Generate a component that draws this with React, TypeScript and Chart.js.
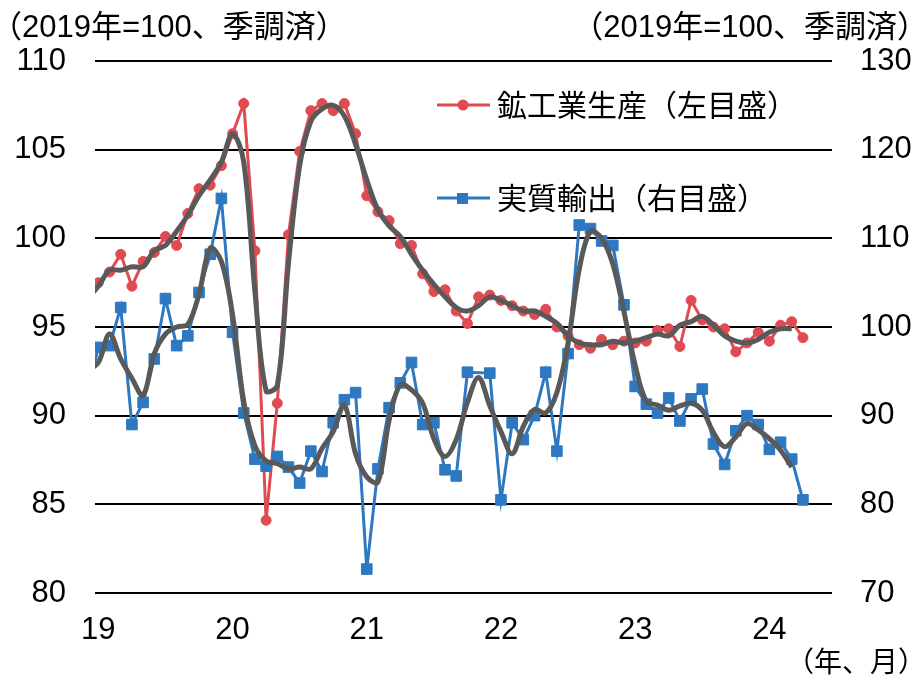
import React, { useEffect, useRef } from 'react';
import { Chart, registerables } from 'chart.js';

Chart.register(...registerables);

const FONT = '"Liberation Sans", "Noto Sans CJK JP", Arial, sans-serif';
const CJK = '"Noto Sans CJK JP", "Liberation Sans", sans-serif';

// Months from Dec 2018 to Apr 2024
const months = [
  '2018-12',
  '2019-01', '2019-02', '2019-03', '2019-04', '2019-05', '2019-06', '2019-07', '2019-08', '2019-09', '2019-10', '2019-11', '2019-12',
  '2020-01', '2020-02', '2020-03', '2020-04', '2020-05', '2020-06', '2020-07', '2020-08', '2020-09', '2020-10', '2020-11', '2020-12',
  '2021-01', '2021-02', '2021-03', '2021-04', '2021-05', '2021-06', '2021-07', '2021-08', '2021-09', '2021-10', '2021-11', '2021-12',
  '2022-01', '2022-02', '2022-03', '2022-04', '2022-05', '2022-06', '2022-07', '2022-08', '2022-09', '2022-10', '2022-11', '2022-12',
  '2023-01', '2023-02', '2023-03', '2023-04', '2023-05', '2023-06', '2023-07', '2023-08', '2023-09', '2023-10', '2023-11', '2023-12',
  '2024-01', '2024-02', '2024-03', '2024-04',
];

const yearTickMonths = ['2019-01', '2020-01', '2021-01', '2022-01', '2023-01', '2024-01'];
const yearTickLabels = ['19', '20', '21', '22', '23', '24'];

// 鉱工業生産 (left axis)
const ipValues = [
  96.5,
  97.5, 98.1, 99.1, 97.3, 98.7, 99.2, 100.1, 99.6, 101.4, 102.8, 103.0, 104.1,
  105.9, 107.6, 99.3, 84.1, 90.7, 100.2, 104.9, 107.2, 107.6, 107.2, 107.6, 105.9,
  102.4, 101.5, 101.0, 99.7, 99.6, 98.0, 97.0, 97.1, 95.9, 95.2, 96.7, 96.8,
  96.5, 96.2, 95.9, 95.7, 96.0, 95.0, 94.5, 94.0, 93.8, 94.3, 94.0, 94.2,
  94.1, 94.2, 94.8, 94.9, 93.9, 96.5, 95.4, 95.0, 94.9, 93.6, 94.1, 94.7,
  94.2, 95.1, 95.3, 94.4,
];

// 3か月移動平均 of 鉱工業生産 (gray line)
const ipTrend = [
  96.6,
  97.3, 98.2, 98.2, 98.4, 98.4, 99.3, 99.6, 100.4, 101.3, 102.4, 103.3, 104.3,
  105.9, 104.3, 97.0, 91.4, 91.7, 98.6, 104.1, 106.6, 107.3, 107.5, 106.9, 105.3,
  103.3, 101.6, 100.7, 100.1, 99.1, 98.2, 97.4, 96.7, 96.1, 95.9, 96.2, 96.7,
  96.5, 96.2, 95.9, 95.9, 95.6, 95.2, 94.5, 94.1, 94.0, 94.0, 94.2, 94.1,
  94.2, 94.4, 94.6, 94.5, 95.1, 95.3, 95.6, 95.1, 94.5, 94.2, 94.1, 94.3,
  94.7, 94.9, 94.9, null,
];

// 実質輸出 (right axis)
const exportValues = [
  92.5,
  97.7, 97.9, 102.2, 89.0, 91.5, 96.4, 103.2, 97.9, 99.0, 103.9, 108.2, 114.5,
  99.4, 90.3, 85.1, 84.3, 85.4, 84.2, 82.4, 86.0, 83.7, 89.2, 91.8, 92.6,
  72.7, 84.0, 90.9, 93.7, 96.0, 89.0, 89.2, 83.9, 83.2, 94.9, null, 94.8,
  80.5, 89.2, 87.3, 90.0, 94.9, 86.0, 97.0, 111.5, 111.1, 109.7, 109.2, 102.5,
  93.3, 91.3, 90.3, 92.0, 89.4, 91.9, 93.0, 86.8, 84.5, 88.3, 90.0, 89.0,
  86.2, 87.0, 85.1, 80.5,
];

// 3か月移動平均 of 実質輸出 (gray line)
const exportTrend = [
  95.0,
  96.0, 99.2, 96.4, 94.2, 92.3, 97.0, 99.2, 100.0, 100.3, 103.7, 108.9, 107.4,
  101.4, 91.6, 86.6, 84.9, 84.6, 84.0, 84.2, 84.0, 86.3, 88.2, 91.2, 85.7,
  83.1, 82.5, 89.5, 93.5, 92.9, 91.4, 87.4, 85.4, 87.3, 91.5, 94.3, 91.1,
  88.2, 85.7, 88.8, 90.7, 90.3, 92.6, 98.2, 106.5, 110.8, 110.0, 107.1, 101.7,
  95.7, 91.6, 91.2, 90.6, 91.1, 91.4, 90.6, 88.1, 86.5, 87.6, 89.1, 88.4,
  87.4, 86.1, 84.2, null,
];

const RED = '#E04B52';
const BLUE = '#2E78C2';
const GRAY = '#595959';

const monthPos = (m: string) => {
  const [y, mo] = m.split('-').map(Number);
  return (y - 2019) * 12 + (mo - 1);
};

const toPoints = (vals: (number | null)[]) => months.map((m, i) => ({ x: monthPos(m), y: vals[i] }));

const overlay = {
  id: 'overlay',
  afterDraw(chart: any) {
    const ctx = chart.ctx as CanvasRenderingContext2D;
    ctx.save();
    ctx.fillStyle = '#000';
    ctx.textBaseline = 'middle';
    ctx.font = `31px ${FONT}`;
    ctx.textAlign = 'left';
    ctx.fillText('（2019年=100、季調済）', -9, 28);
    ctx.textAlign = 'right';
    ctx.fillText('（2019年=100、季調済）', 928, 28);
    ctx.font = `28px ${FONT}`;
    ctx.fillText('（年、月）', 926, 664);

    const entries = [
      { ds: chart.data.datasets[0], y: 105 },
      { ds: chart.data.datasets[1], y: 198 },
    ];
    entries.forEach(({ ds, y }) => {
      ctx.strokeStyle = ds.borderColor;
      ctx.lineWidth = 3;
      ctx.beginPath();
      ctx.moveTo(437, y);
      ctx.lineTo(490, y);
      ctx.stroke();
      ctx.fillStyle = ds.backgroundColor;
      if (ds.pointStyle === 'rect') {
        ctx.fillRect(457, y - 5, 11, 11);
      } else {
        ctx.beginPath();
        ctx.arc(463, y, 5.5, 0, Math.PI * 2);
        ctx.fill();
      }
      ctx.fillStyle = '#000';
      ctx.textAlign = 'left';
      ctx.font = `30px ${CJK}`;
      ctx.fillText(ds.label, 497, y);
    });
    ctx.restore();
  },
};

export default function App() {
  const ref = useRef<HTMLCanvasElement | null>(null);

  useEffect(() => {
    if (!ref.current) return;
    const tickValues = yearTickMonths.map(monthPos);
    const chart = new Chart(ref.current, {
      type: 'line',
      data: {
        datasets: [
          {
            label: '鉱工業生産（左目盛）',
            data: toPoints(ipValues),
            yAxisID: 'y',
            borderColor: RED,
            backgroundColor: RED,
            borderWidth: 3,
            pointStyle: 'circle',
            pointRadius: 5,
            pointBorderWidth: 1,
            tension: 0,
            order: 2,
          },
          {
            label: '実質輸出（右目盛）',
            data: toPoints(exportValues),
            yAxisID: 'y2',
            borderColor: BLUE,
            backgroundColor: BLUE,
            borderWidth: 3,
            pointStyle: 'rect',
            pointRadius: 7.5,
            pointBorderWidth: 1,
            tension: 0,
            spanGaps: true,
            order: 1,
          },
          {
            label: '鉱工業生産（3か月移動平均）',
            data: toPoints(ipTrend),
            yAxisID: 'y',
            borderColor: GRAY,
            backgroundColor: GRAY,
            borderWidth: 5,
            pointRadius: 0,
            tension: 0.35,
            order: 0,
          },
          {
            label: '実質輸出（3か月移動平均）',
            data: toPoints(exportTrend),
            yAxisID: 'y2',
            borderColor: GRAY,
            backgroundColor: GRAY,
            borderWidth: 5,
            pointRadius: 0,
            tension: 0.35,
            order: 0,
          },
        ],
      },
      options: {
        animation: false,
        responsive: true,
        maintainAspectRatio: false,
        layout: { padding: { top: 61, left: 0, right: 0, bottom: 0 } },
        plugins: { legend: { display: false }, tooltip: { enabled: false } },
        scales: {
          x: {
            type: 'linear',
            min: -0.3,
            max: 65.6,
            grid: { display: false, drawTicks: false },
            border: { display: false },
            afterBuildTicks: (s: any) => {
              s.ticks = tickValues.map((v) => ({ value: v }));
            },
            ticks: {
              autoSkip: false,
              maxRotation: 0,
              padding: 19,
              color: '#000',
              font: { family: FONT, size: 31 },
              callback: (v: any) => {
                const i = tickValues.indexOf(Number(v));
                return i >= 0 ? yearTickLabels[i] : '';
              },
            },
            afterFit: (s: any) => {
              s.height = 87;
            },
          },
          y: {
            position: 'left',
            min: 80,
            max: 110,
            grid: { color: '#000', lineWidth: 2, drawTicks: false },
            border: { display: false },
            ticks: { stepSize: 5, padding: 29, color: '#000', font: { family: FONT, size: 31 } },
            afterFit: (s: any) => {
              s.width = 95;
            },
          },
          y2: {
            position: 'right',
            min: 70,
            max: 130,
            grid: { display: false, drawTicks: false },
            border: { display: false },
            ticks: { stepSize: 10, padding: 28, color: '#000', font: { family: FONT, size: 31 } },
            afterFit: (s: any) => {
              s.width = 84;
            },
          },
        },
      },
      plugins: [overlay],
    } as any);
    return () => chart.destroy();
  }, []);

  return (
    <div style={{ position: 'absolute', left: 0, top: 0, width: 916, height: 680, background: '#fff' }}>
      <canvas ref={ref} />
    </div>
  );
}
